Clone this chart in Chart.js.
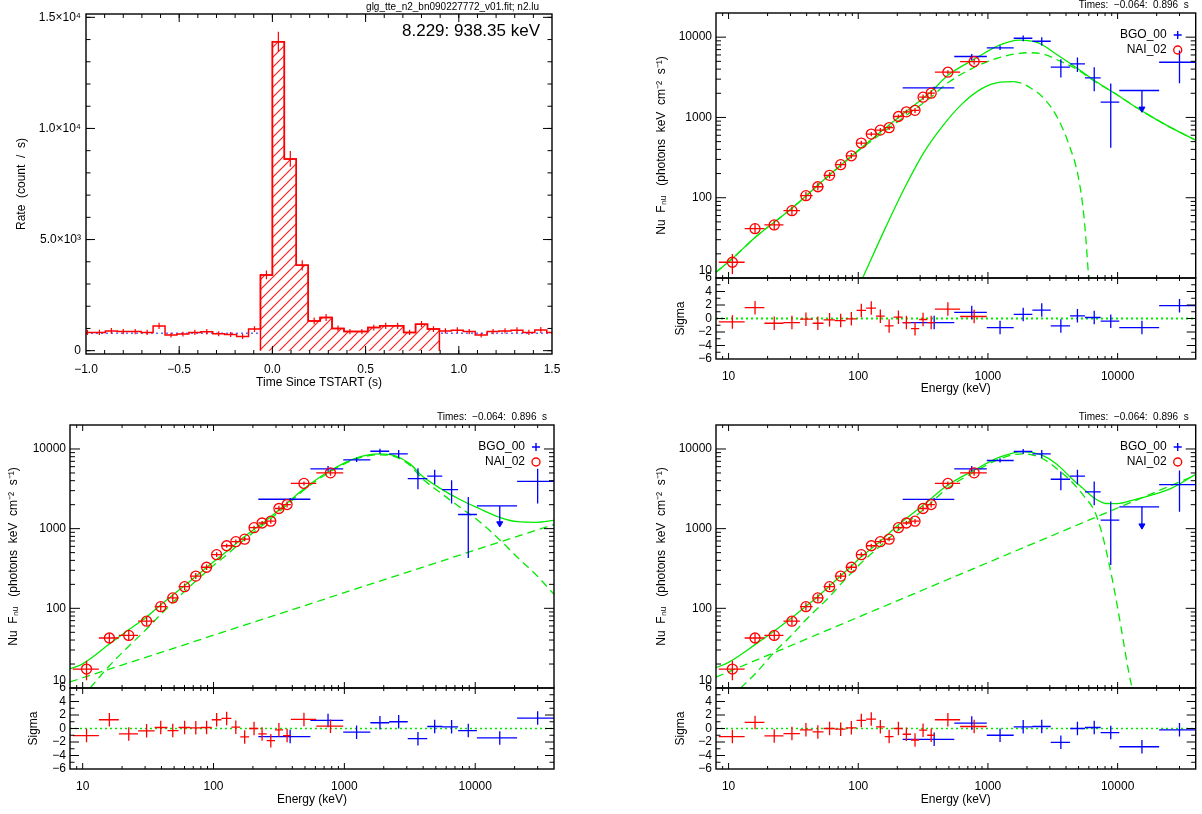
<!DOCTYPE html>
<html>
<head>
<meta charset="utf-8">
<script src="https://cdn.jsdelivr.net/npm/chart.js@4.4.1/dist/chart.umd.min.js"></script>
<style>
  html, body { margin: 0; padding: 0; background: #fff; }
  body { width: 1202px; height: 814px; position: relative; overflow: hidden; }
  canvas { position: absolute; }
</style>
</head>
<body>
<canvas id="lc"></canvas>
<canvas id="specTR"></canvas>
<canvas id="specBL"></canvas>
<canvas id="specBR"></canvas>
<script>
// ---- light curve (top left) ----
const lcEdges = [-1.024, -0.96, -0.896, -0.832, -0.768, -0.704, -0.64, -0.576, -0.512, -0.448,
  -0.384, -0.32, -0.256, -0.192, -0.128, -0.064, 0, 0.064, 0.128, 0.192,
  0.256, 0.32, 0.384, 0.448, 0.512, 0.576, 0.64, 0.704, 0.768, 0.832,
  0.896, 0.96, 1.024, 1.088, 1.152, 1.216, 1.28, 1.344, 1.408, 1.472, 1.536];
const lcRate = [820, 820, 890, 860, 860, 820, 1115, 700, 745, 820,
  850, 760, 730, 640, 970, 3410, 13900, 8630, 3840, 1340,
  1490, 1000, 860, 860, 1040, 1120, 1120, 820, 1190, 970,
  890, 920, 860, 700, 860, 890, 920, 820, 930, 820];
const lcErr = [120, 120, 130, 120, 120, 120, 140, 110, 110, 120,
  120, 110, 110, 110, 130, 200, 450, 350, 230, 150,
  160, 130, 120, 120, 130, 140, 140, 120, 140, 130,
  120, 130, 120, 110, 120, 120, 130, 120, 130, 120];
const lcBackground = 780;
const selTimes = [-0.064, 0.896];

// ---- spectral data, shared bins ----
const naiE  = [10.7, 16.0, 22.5, 30.8, 39.5, 48.8, 60.1, 73.2, 88.5, 105.6, 126, 148, 173, 204, 235, 274, 316, 365, 491, 783];
const naiLo = [8.4, 13.3, 18.9, 26.5, 35.5, 44.5, 54, 66, 80, 97, 115, 137, 160, 187, 220, 255, 295, 340, 390, 610];
const naiHi = [13.3, 18.9, 26.5, 35.5, 44.5, 54, 66, 80, 97, 115, 137, 160, 187, 220, 255, 295, 340, 390, 610, 980];
const bgoE  = [385, 750, 1240, 1870, 2600, 3650, 4900, 6600, 8850, 15400, 30000];
const bgoLo = [220, 550, 980, 1580, 2200, 3050, 4300, 5600, 7400, 10300, 20900];
const bgoHi = [550, 980, 1580, 2200, 3050, 4300, 5600, 7400, 10300, 20900, 40000];

const naiFluxTop = [15.7, 41.2, 45.8, 69.0, 106, 137, 190, 258, 333, 480, 620, 695, 745, 1027, 1175, 1225, 1788, 2006, 3660, 4970];
const naiFluxLoTop = [11.2, 36, 40, 61, 94, 123, 173, 237, 307, 447, 583, 652, 700, 968, 1108, 1140, 1650, 1840, 3460, 4560];
const naiFluxHiTop = [19.9, 47, 52, 78, 119, 152, 208, 280, 360, 514, 658, 740, 792, 1088, 1244, 1312, 1930, 2180, 3870, 5400];
const naiFluxBot = [17.3, 42.4, 45.7, 68.9, 105, 135, 187, 254, 328, 472, 610, 686, 738, 1029, 1177, 1240, 1790, 2008, 3700, 5020];
const naiFluxLoBot = [12.5, 37, 40, 61, 93, 121, 170, 233, 302, 440, 575, 645, 694, 970, 1110, 1155, 1655, 1845, 3490, 4610];
const naiFluxHiBot = [22, 48, 52, 78, 118, 150, 205, 277, 355, 506, 648, 730, 785, 1090, 1246, 1325, 1935, 2185, 3910, 5450];

const bgoFluxTR = [2330, 5740, 7360, 9700, 8900, 4230, 4650, 3110, 1550, 2165, 4870];
const bgoFluxLoTR = [2250, 5210, 6900, 8900, 7870, 3150, 3670, 2120, 420, null, 2670];
const bgoFluxHiTR = [2420, 6190, 7850, 10500, 9980, 5300, 5600, 4230, 2650, null, 6800];
const ulEndTR = 1280;
const bgoFluxBL = [2340, 5640, 7290, 9360, 8670, 4240, 4570, 3090, 1506, 1930, 3920];
const bgoFluxLoBL = [2250, 5200, 6850, 8700, 7700, 3120, 3600, 2070, 427, null, 2070];
const bgoFluxHiBL = [2430, 6100, 7750, 10100, 9700, 5740, 5500, 4040, 2500, null, 5640];
const ulEndBL = 1160;
const bgoFluxBR = [2330, 5640, 7170, 9300, 8660, 4170, 4570, 2890, 1282, 1880, 3560];
const bgoFluxLoBR = [2240, 5200, 6750, 8650, 7700, 3040, 3600, 1960, 350, null, 1630];
const bgoFluxHiBR = [2420, 6100, 7650, 10000, 9700, 5200, 5500, 3900, 2190, null, 5370];
const ulEndBR = 1090;

// residuals (sigma)
const resNaiTR = [-0.5, 1.6, -0.7, -0.6, -0.1, -0.7, -0.2, -0.3, -0.05, 1.2, 1.55, 0.35, -1.1, 0.2, -0.6, -1.5, -0.15, -0.6, 1.4, 0.3];
const resBgoTR = [-0.6, 0.9, -1.35, 0.6, 1.25, -1.1, 0.4, 0.15, -0.4, -1.35, 1.9];
const resNaiBL = [-1.05, 1.3, -0.8, -0.35, 0.15, -0.3, 0.15, 0.1, 0.15, 1.3, 1.5, 0.2, -1.25, 0, -0.8, -1.8, -0.2, -1.05, 1.35, 0.35];
const resBgoBL = [-1.2, 1.2, -0.55, 0.85, 1.0, -1.5, 0.3, 0.25, -0.3, -1.4, 1.55];
const resNaiBR = [-1.2, 0.9, -1.1, -0.75, -0.2, -0.5, 0, -0.1, 0.1, 1.2, 1.4, 0.25, -1.2, 0, -0.85, -1.7, -0.25, -1.0, 1.3, 0.3];
const resBgoBR = [-1.6, 0.8, -1.0, 0.25, 0.3, -2.05, 0, 0.15, -0.6, -2.7, -0.2];
const SIGMA = 1;

// model curves
const trTotE = [8, 10.7, 16, 30.8, 60, 105.6, 204, 365, 491, 783, 1240, 1740, 2450, 3440, 4880, 6800, 9700, 13000, 18500, 26000, 40000];
const trTotF = [11.8, 17.5, 32, 74, 193, 420, 1000, 2100, 3350, 5300, 8000, 9200, 8500, 6000, 4100, 2800, 1960, 1430, 1010, 740, 520];
const trBandE = [8, 10.7, 16, 30.8, 60, 105.6, 204, 365, 491, 783, 1240, 1740, 2200, 2800, 3440, 4880, 6800, 9700, 13000, 18500, 26000, 40000];
const trBandF = [11.8, 17.5, 32, 74, 192, 410, 900, 1800, 2700, 4200, 5600, 6300, 6400, 6000, 5200, 3950, 2750, 1960, 1430, 1010, 740, 520];
const trBbE = [108, 163, 229, 321, 450, 632, 890, 1240, 1575, 2135, 2800, 3430, 4200, 4980, 5510, 5900, 5970];
const trBbF = [10, 43, 135, 368, 792, 1476, 2270, 2750, 2800, 2330, 1620, 1000, 466, 180, 57, 13.6, 10];

const blTotE = [8, 10, 16, 22.3, 30.8, 39.8, 60.5, 89.4, 126, 173, 274, 367, 499, 783, 1240, 1850, 2420, 3170, 3890, 5450, 7640, 10700, 15000, 21000, 29400, 40000];
const blTotF = [17.4, 20.1, 35.6, 53.3, 78, 112, 195, 330, 518, 795, 1410, 2110, 3240, 5370, 7730, 8660, 8260, 6500, 4650, 3180, 2320, 1790, 1410, 1222, 1200, 1270];
const blPlE = [8, 40000];
const blPlF = [11.9, 1130];
const blBandE = [11.4, 16, 22.3, 30.8, 39.8, 60.5, 89.4, 126, 173, 274, 367, 499, 783, 1240, 1850, 2420, 3170, 3890, 5450, 7640, 10700, 15000, 21000, 29400, 40000];
const blBandF = [10, 19, 33, 55, 85, 165, 295, 470, 734, 1330, 2010, 3120, 5200, 7550, 8450, 8000, 6250, 4330, 2800, 1860, 1240, 754, 437, 260, 150];

const brTotE = [8, 10, 16, 22.5, 30.7, 39.5, 48.7, 60, 73, 88, 105, 147, 202, 314, 488, 777, 1230, 1840, 2580, 3380, 4440, 5440, 6670, 8170, 10000, 13100, 18400, 25900, 40000];
const brTotF = [18, 21, 35, 52, 76, 106, 140, 190, 255, 335, 440, 690, 1100, 1950, 3500, 5380, 7880, 9270, 8410, 6500, 4240, 3180, 2390, 2070, 2060, 2280, 2650, 3200, 4800];
const brPlE = [8, 40000];
const brPlF = [13.7, 4700];
const brBandE = [12.4, 16, 22.5, 30.7, 39.5, 48.7, 60, 73, 88, 105, 147, 202, 314, 488, 777, 1230, 1840, 2580, 3380, 4440, 5440, 6670, 7630, 8730, 10000, 11070, 12250, 12920];
const brBandF = [10, 15, 28, 46, 72, 100, 140, 200, 275, 370, 600, 950, 1700, 3200, 5100, 7500, 8700, 7700, 5700, 3850, 2620, 1630, 834, 321, 102, 39, 15, 10];

// ---- styling ----
const RED = 'rgb(255,0,0)', BLUE = 'rgb(0,0,255)', GREEN = 'rgb(0,235,0)';
const DASH = [8, 5];
Chart.defaults.font.family = "'Liberation Sans', Arial, Helvetica, sans-serif";
Chart.defaults.font.size = 12;
Chart.defaults.color = '#000';
Chart.defaults.animation = false;
Chart.defaults.events = [];
Chart.defaults.plugins.legend.display = false;
Chart.defaults.plugins.tooltip.enabled = false;

function pts(xs, ys) { return xs.map((x, i) => ({x, y: ys[i]})); }

function hBars(lo, hi, y) {
  const out = [];
  lo.forEach((l, i) => { out.push({x: l, y: y[i]}, {x: hi[i], y: y[i]}, {x: hi[i], y: null}); });
  return out;
}

function vBars(x, lo, hi) {
  const out = [];
  x.forEach((xv, i) => {
    if (lo[i] == null) return;
    out.push({x: xv, y: lo[i]}, {x: xv, y: hi[i]}, {x: xv, y: null});
  });
  return out;
}

function seg(data, color, extra) {
  return Object.assign({type: 'line', data, borderColor: color, borderWidth: 1.3,
    pointRadius: 0, spanGaps: false, fill: false, tension: 0}, extra || {});
}

function hatch(color) {
  const c = document.createElement('canvas');
  c.width = 10; c.height = 10;
  const g = c.getContext('2d');
  g.fillStyle = '#ffffff';
  g.fillRect(0, 0, 10, 10);
  g.strokeStyle = color;
  g.lineWidth = 1.2;
  g.beginPath();
  g.moveTo(0, 10); g.lineTo(10, 0);
  g.moveTo(-5, 5); g.lineTo(5, -5);
  g.moveTo(5, 15); g.lineTo(15, 5);
  g.stroke();
  return g.createPattern(c, 'repeat');
}

// IDL-like frame: box round every panel, ticks pointing inward on all sides
const idlFrame = {
  id: 'idlFrame',
  afterDatasetsDraw(chart, args, opts) {
    const ctx = chart.ctx;
    const xs = chart.scales.x;
    const line = (x1, y1, x2, y2) => { ctx.beginPath(); ctx.moveTo(x1, y1); ctx.lineTo(x2, y2); ctx.stroke(); };
    ctx.save();
    ctx.strokeStyle = '#000';
    opts.panels.forEach(p => {
      const ys = chart.scales[p.id];
      ctx.lineWidth = 1.4;
      ctx.strokeRect(xs.left, ys.top, xs.right - xs.left, ys.bottom - ys.top);
      ctx.lineWidth = 1;
      [[opts.xMinor, opts.xLen / 2], [opts.xMajor, opts.xLen]].forEach(([vals, len]) => vals.forEach(v => {
        const px = xs.getPixelForValue(v);
        if (px < xs.left + 0.5 || px > xs.right - 0.5) return;
        line(px, ys.bottom, px, ys.bottom - len);
        line(px, ys.top, px, ys.top + len);
      }));
      [[p.minor, p.len / 2], [p.major, p.len]].forEach(([vals, len]) => vals.forEach(v => {
        const py = ys.getPixelForValue(v);
        if (py < ys.top + 0.5 || py > ys.bottom - 0.5) return;
        line(xs.left, py, xs.left + len, py);
        line(xs.right, py, xs.right - len, py);
      }));
    });
    ctx.restore();
  }
};

// annotation texts and legend symbols, placed relative to the plot box
const notes = {
  id: 'notes',
  afterDraw(chart, args, opts) {
    const ctx = chart.ctx;
    const a = chart.chartArea;
    ctx.save();
    (opts.items || []).forEach(it => {
      ctx.font = it.font;
      ctx.fillStyle = '#000';
      ctx.textAlign = 'right';
      ctx.textBaseline = 'middle';
      ctx.fillText(it.text, a.right + it.dx, a.top + it.dy);
    });
    (opts.marks || []).forEach(m => {
      const x = a.right + m.dx, y = a.top + m.dy;
      ctx.strokeStyle = m.color;
      ctx.lineWidth = 1.4;
      ctx.beginPath();
      if (m.kind === 'plus') {
        ctx.moveTo(x - 4, y); ctx.lineTo(x + 4, y);
        ctx.moveTo(x, y - 4); ctx.lineTo(x, y + 4);
      } else {
        ctx.arc(x, y, 4, 0, Math.PI * 2);
      }
      ctx.stroke();
    });
    ctx.restore();
  }
};

function mount(id, box, area, axisW, axisH, config) {
  const cv = document.getElementById(id);
  cv.width = box.w; cv.height = box.h;
  cv.style.left = box.x + 'px';
  cv.style.top = box.y + 'px';
  config.options.responsive = false;
  config.options.layout = {padding: {
    left: area.l - box.x - axisW,
    top: area.t - box.y,
    right: box.x + box.w - area.r,
    bottom: box.y + box.h - area.b - axisH
  }};
  config.plugins = [idlFrame, notes];
  return new Chart(cv, config);
}

const signed = s => s.replace('-', '\u2212');
const noGrid = {display: false, drawTicks: false};

// ---------------- top left: light curve ----------------
(function () {
  const n = lcRate.length;
  const histo = lcRate.map((r, i) => ({x: lcEdges[i], y: r})).concat([{x: lcEdges[n], y: lcRate[n - 1]}]);
  const sel = [{x: selTimes[0], y: 0}];
  lcRate.forEach((r, i) => {
    if (lcEdges[i] > selTimes[0] - 1e-6 && lcEdges[i] < selTimes[1] - 1e-6) sel.push({x: lcEdges[i], y: r});
  });
  sel.push({x: selTimes[1], y: 0});
  const centers = lcRate.map((r, i) => (lcEdges[i] + lcEdges[i + 1]) / 2);
  const tenths = [];
  for (let k = -10; k <= 15; k++) tenths.push(k / 10);
  const thousands = [];
  for (let k = 0; k <= 15; k++) thousands.push(k * 1000);
  const yLabels = {0: '0', 5000: '5.0\u00d710\u00b3', 10000: '1.0\u00d710\u2074', 15000: '1.5\u00d710\u2074'};

  mount('lc', {x: 0, y: 0, w: 610, h: 400}, {l: 86, t: 14, r: 552, b: 354}, 86, 40, {
    type: 'line',
    data: {datasets: [
      seg(vBars(centers, lcRate.map((r, i) => r - lcErr[i]), lcRate.map((r, i) => r + lcErr[i])), RED, {borderWidth: 1.2}),
      seg(histo, RED, {stepped: 'before', borderWidth: 1.5}),
      seg(sel, RED, {stepped: 'before', borderWidth: 1.5, fill: 'origin', backgroundColor: hatch('#ff2020')}),
      seg(pts([-1, 1.5], [lcBackground, lcBackground]), 'rgba(90,90,255,0.9)', {borderDash: [2, 3], borderWidth: 1.5})
    ]},
    options: {
      plugins: {
        filler: {drawTime: 'beforeDatasetDraw'},
        idlFrame: {xMajor: [-1, -0.5, 0, 0.5, 1, 1.5], xMinor: tenths, xLen: 8,
          panels: [{id: 'y', major: [0, 5000, 10000, 15000], minor: thousands, len: 9}]},
        notes: {items: [
          {text: 'glg_tte_n2_bn090227772_v01.fit; n2.lu', font: '10px "Liberation Sans", Arial', dx: -13, dy: -7},
          {text: '8.229: 938.35 keV', font: '17px "Liberation Sans", Arial', dx: -12, dy: 17}
        ]}
      },
      scales: {
        x: {type: 'linear', min: -1, max: 1.5, grid: noGrid, border: {display: false},
          afterBuildTicks: s => { s.ticks = [-1, -0.5, 0, 0.5, 1, 1.5].map(v => ({value: v})); },
          afterFit: s => { s.height = 40; },
          ticks: {autoSkip: false, maxRotation: 0, padding: 8, callback: v => signed(Number(v).toFixed(1))},
          title: {display: true, text: 'Time Since TSTART (s)', padding: {top: 0, bottom: 4}}},
        y: {type: 'linear', min: -150, max: 15150, grid: noGrid, border: {display: false},
          afterBuildTicks: s => { s.ticks = [0, 5000, 10000, 15000].map(v => ({value: v})); },
          afterFit: s => { s.width = 86; },
          ticks: {autoSkip: false, padding: 5, callback: v => yLabels[v]},
          title: {display: true, text: 'Rate  (count  /  s)', padding: {top: 14, bottom: 0}}}
      }
    }
  });
})();

// ---------------- spectral panels ----------------
const decades = [10, 100, 1000, 10000];
const logMinor = [];
[1, 10, 100, 1000, 10000].forEach(d => { for (let k = 2; k <= 9; k++) logMinor.push(k * d); });
const sigmaTicks = [-6, -4, -2, 0, 2, 4, 6];

function specDatasets(c) {
  const up = {xAxisID: 'x', yAxisID: 'y', clip: false};
  const lo = {xAxisID: 'x', yAxisID: 'yres', clip: false};
  const u = c.bgoLo.indexOf(null);
  const ds = [
    seg(pts(naiE, c.naiF), RED, Object.assign({showLine: false, pointRadius: 5, pointStyle: 'circle',
      pointBorderColor: RED, pointBackgroundColor: 'rgba(0,0,0,0)', pointBorderWidth: 1.3}, up)),
    seg(hBars(naiLo, naiHi, c.naiF), RED, up),
    seg(vBars(naiE, c.naiLo, c.naiHi), RED, up),
    seg(hBars(bgoLo, bgoHi, c.bgoF), BLUE, up),
    seg(vBars(bgoE, c.bgoLo, c.bgoHi), BLUE, up),
    seg([{x: bgoE[u], y: c.bgoF[u]}, {x: bgoE[u], y: c.ulEnd}], BLUE, up),
    seg([{x: bgoE[u], y: c.ulEnd}], BLUE, Object.assign({showLine: false, pointRadius: 3.5, pointStyle: 'triangle',
      pointRotation: 180, pointBackgroundColor: BLUE, pointBorderColor: BLUE, pointBorderWidth: 1}, up))
  ];
  c.models.forEach(m => {
    const extra = Object.assign({cubicInterpolationMode: 'monotone', borderWidth: 1.3, borderDash: m.dash ? DASH : []}, up);
    if (m.dashAbove) extra.segment = {borderDash: s => (s.p0.parsed.x >= m.dashAbove ? DASH : undefined)};
    ds.push(seg(pts(m.e, m.f), GREEN, extra));
  });
  ds.push(
    seg(hBars(naiLo, naiHi, c.resNai), RED, lo),
    seg(vBars(naiE, c.resNai.map(r => r - SIGMA), c.resNai.map(r => r + SIGMA)), RED, lo),
    seg(hBars(bgoLo, bgoHi, c.resBgo), BLUE, lo),
    seg(vBars(bgoE, c.resBgo.map(r => r - SIGMA), c.resBgo.map(r => r + SIGMA)), BLUE, lo),
    seg(pts([8, 40000], [0, 0]), GREEN, Object.assign({borderDash: [2, 3], borderWidth: c.zeroWidth}, lo))
  );
  return ds;
}

function specChart(id, box, area, split, c) {
  const axisW = area.l - box.x;
  const upH = split - area.t, loH = area.b - split;
  return mount(id, box, area, axisW, 40, {
    type: 'line',
    data: {datasets: specDatasets(c)},
    options: {
      plugins: {
        idlFrame: {xMajor: decades, xMinor: logMinor, xLen: 6,
          panels: [
            {id: 'y', major: decades, minor: logMinor, len: 10},
            {id: 'yres', major: sigmaTicks, minor: [-5, -3, -1, 1, 3, 5], len: 9}
          ]},
        notes: {
          items: [
            {text: 'Times:  \u22120.064:  0.896  s', font: '10px "Liberation Sans", Arial', dx: -7, dy: -8},
            {text: 'BGO_00', font: '12px "Liberation Sans", Arial', dx: -29, dy: 22},
            {text: 'NAI_02', font: '12px "Liberation Sans", Arial', dx: -29, dy: 37}
          ],
          marks: [
            {kind: 'plus', color: BLUE, dx: -18, dy: 22},
            {kind: 'circle', color: RED, dx: -18, dy: 37}
          ]
        }
      },
      scales: {
        x: {type: 'logarithmic', min: 8, max: 40000, position: 'bottom', grid: noGrid, border: {display: false},
          afterBuildTicks: s => { s.ticks = decades.map(v => ({value: v})); },
          afterFit: s => { s.height = 40; },
          ticks: {autoSkip: false, maxRotation: 0, padding: 10, callback: v => String(v)},
          title: {display: true, text: 'Energy (keV)', padding: {top: 0, bottom: c.xTitlePad}}},
        y: {type: 'logarithmic', min: 10, max: 20000, position: 'left', stack: 'spec', stackWeight: upH, weight: 2,
          grid: noGrid, border: {display: false},
          afterBuildTicks: s => { s.ticks = decades.map(v => ({value: v})); },
          afterFit: s => { s.width = axisW; },
          // the bottom label is lifted half a line so it clears the "6" of the sigma panel
          ticks: {autoSkip: false, padding: 4, callback: v => (v === 10 ? ['10', ''] : String(v))},
          title: {display: true, text: 'Nu  F\u2099\u1d64   (photons  keV  cm\u207b\u00b2  s\u207b\u00b9)', padding: {top: c.yTitlePad, bottom: 0}}},
        yres: {type: 'linear', min: -6, max: 6, position: 'left', stack: 'spec', stackWeight: loH, weight: 1,
          grid: noGrid, border: {display: false},
          afterBuildTicks: s => { s.ticks = sigmaTicks.map(v => ({value: v})); },
          afterFit: s => { s.width = axisW; },
          ticks: {autoSkip: false, padding: 4, callback: v => signed(String(v))},
          title: {display: true, text: 'Sigma', padding: {top: c.rTitlePad, bottom: 0}}}
      }
    }
  });
}

specChart('specTR', {x: 620, y: 0, w: 582, h: 400}, {l: 716, t: 13, r: 1200, b: 359}, 278, {
  naiF: naiFluxTop, naiLo: naiFluxLoTop, naiHi: naiFluxHiTop,
  bgoF: bgoFluxTR, bgoLo: bgoFluxLoTR, bgoHi: bgoFluxHiTR, ulEnd: ulEndTR,
  resNai: resNaiTR, resBgo: resBgoTR, zeroWidth: 2,
  yTitlePad: 34, rTitlePad: 53, xTitlePad: 3,
  models: [
    {e: trTotE, f: trTotF},
    {e: trBandE, f: trBandF, dash: true},
    {e: trBbE, f: trBbF, dashAbove: 1575}
  ]
});

specChart('specBL', {x: 0, y: 400, w: 610, h: 414}, {l: 70, t: 425, r: 554, b: 769}, 688, {
  naiF: naiFluxBot, naiLo: naiFluxLoBot, naiHi: naiFluxHiBot,
  bgoF: bgoFluxBL, bgoLo: bgoFluxLoBL, bgoHi: bgoFluxHiBL, ulEnd: ulEndBL,
  resNai: resNaiBL, resBgo: resBgoBL, zeroWidth: 1.3,
  yTitlePad: 6, rTitlePad: 26, xTitlePad: 2,
  models: [
    {e: blTotE, f: blTotF},
    {e: blPlE, f: blPlF, dash: true},
    {e: blBandE, f: blBandF, dash: true}
  ]
});

specChart('specBR', {x: 620, y: 400, w: 582, h: 414}, {l: 716, t: 425, r: 1200, b: 769}, 688, {
  naiF: naiFluxBot, naiLo: naiFluxLoBot, naiHi: naiFluxHiBot,
  bgoF: bgoFluxBR, bgoLo: bgoFluxLoBR, bgoHi: bgoFluxHiBR, ulEnd: ulEndBR,
  resNai: resNaiBR, resBgo: resBgoBR, zeroWidth: 1.3,
  yTitlePad: 34, rTitlePad: 53, xTitlePad: 2,
  models: [
    {e: brTotE, f: brTotF},
    {e: brPlE, f: brPlF, dash: true},
    {e: brBandE, f: brBandF, dash: true}
  ]
});
</script>
</body>
</html>
